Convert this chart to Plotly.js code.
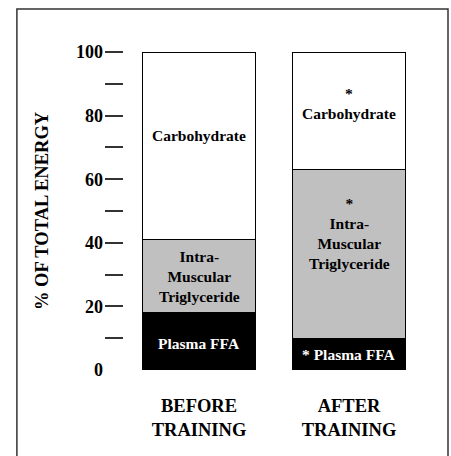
<!DOCTYPE html>
<html>
<head>
<meta charset="utf-8">
<script src="https://cdn.plot.ly/plotly-3.0.1.min.js"></script>
<style>
  html, body { margin: 0; padding: 0; background: #fff; }
  #chart { width: 451px; height: 456px; }
</style>
</head>
<body>
<div id="chart"></div>
<script>
// ---- data ----
var categories = ["BEFORE<br>TRAINING", "AFTER<br>TRAINING"];
var plasmaFFA = [18, 10];
var imtg = [23, 53];
var carbohydrate = [59, 37];
var seriesNames = ["Plasma FFA", "Intra-<br>Muscular<br>Triglyceride", "Carbohydrate"];
// significance markers (after training differs from before)
var sigFFA = [false, true];
var sigIMTG = [false, true];
var sigCarb = [false, true];
var yTickVals = [0, 20, 40, 60, 80, 100];
var yTickText = ["0", "20", "40", "60", "80", "100"];
var yMinorVals = [10, 20, 30, 40, 50, 60, 70, 80, 90, 100];

var serif = "Liberation Serif";
var barLine = {color: "#000", width: 1};
var barWidth = 0.75;

function f(size, color) { return {family: serif, size: size, color: color || "#000", weight: "bold"}; }

var traces = [
  {type: "bar", x: categories, y: plasmaFFA, name: seriesNames[0], width: barWidth,
   marker: {color: "#000000", line: barLine}, hoverinfo: "skip"},
  {type: "bar", x: categories, y: imtg, name: seriesNames[1], width: barWidth,
   marker: {color: "#c0c0c0", line: barLine}, hoverinfo: "skip"},
  {type: "bar", x: categories, y: carbohydrate, name: seriesNames[2], width: barWidth,
   marker: {color: "#ffffff", line: barLine}, hoverinfo: "skip"}
];

// label annotations at segment midpoints
var annotations = [];
var shiftsFFA = [-2, 0], shiftsIMTG = [0, 20], shiftsCarb = [10, 7];
for (var i = 0; i < categories.length; i++) {
  var b0 = 0, b1 = plasmaFFA[i], b2 = plasmaFFA[i] + imtg[i];
  annotations.push({x: categories[i], y: b0 + plasmaFFA[i] / 2, xref: "x", yref: "y",
    text: (sigFFA[i] ? "* " : "") + seriesNames[0], showarrow: false,
    yshift: shiftsFFA[i], font: f(15.5, "#fff")});
  annotations.push({x: categories[i], y: b1 + imtg[i] / 2, xref: "x", yref: "y",
    text: (sigIMTG[i] ? "*<br>" : "") + seriesNames[1], showarrow: false,
    yshift: shiftsIMTG[i], font: f(15.5)});
  annotations.push({x: categories[i], y: b2 + carbohydrate[i] / 2, xref: "x", yref: "y",
    text: (sigCarb[i] ? "*<br>" : "") + seriesNames[2], showarrow: false,
    yshift: shiftsCarb[i], font: f(15.5)});
}

var layout = {
  width: 451, height: 456,
  margin: {l: 124, r: 27, t: 52, b: 86},
  paper_bgcolor: "#fff", plot_bgcolor: "#fff",
  barmode: "stack",
  showlegend: false,
  font: f(15),
  xaxis: {
    type: "category", range: [-0.5, 1.5],
    showline: false, showgrid: false, zeroline: false, ticks: "",
    tickfont: f(18.5),
    ticklabelstandoff: 22
  },
  yaxis: {
    range: [0, 100], fixedrange: true,
    showline: false, showgrid: false, zeroline: false,
    tickmode: "array", tickvals: yTickVals, ticktext: yTickText,
    ticks: "",
    tickfont: f(18),
    ticklabelstandoff: 20,
    minor: {tickmode: "array", tickvals: yMinorVals, ticks: "outside", ticklen: 18, tickwidth: 2, tickcolor: "#333", showgrid: false},
    title: {text: "% OF TOTAL ENERGY", font: f(18.5), standoff: 22}
  },
  annotations: annotations,
  shapes: [{type: "rect", xref: "paper", yref: "paper",
    x0: -0.357, x1: 1.08, y0: -0.3, y1: 1.135,
    line: {color: "#333", width: 1.5}, fillcolor: "rgba(0,0,0,0)"}]
};

Plotly.newPlot("chart", traces, layout, {displayModeBar: false, staticPlot: true});
</script>
</body>
</html>
